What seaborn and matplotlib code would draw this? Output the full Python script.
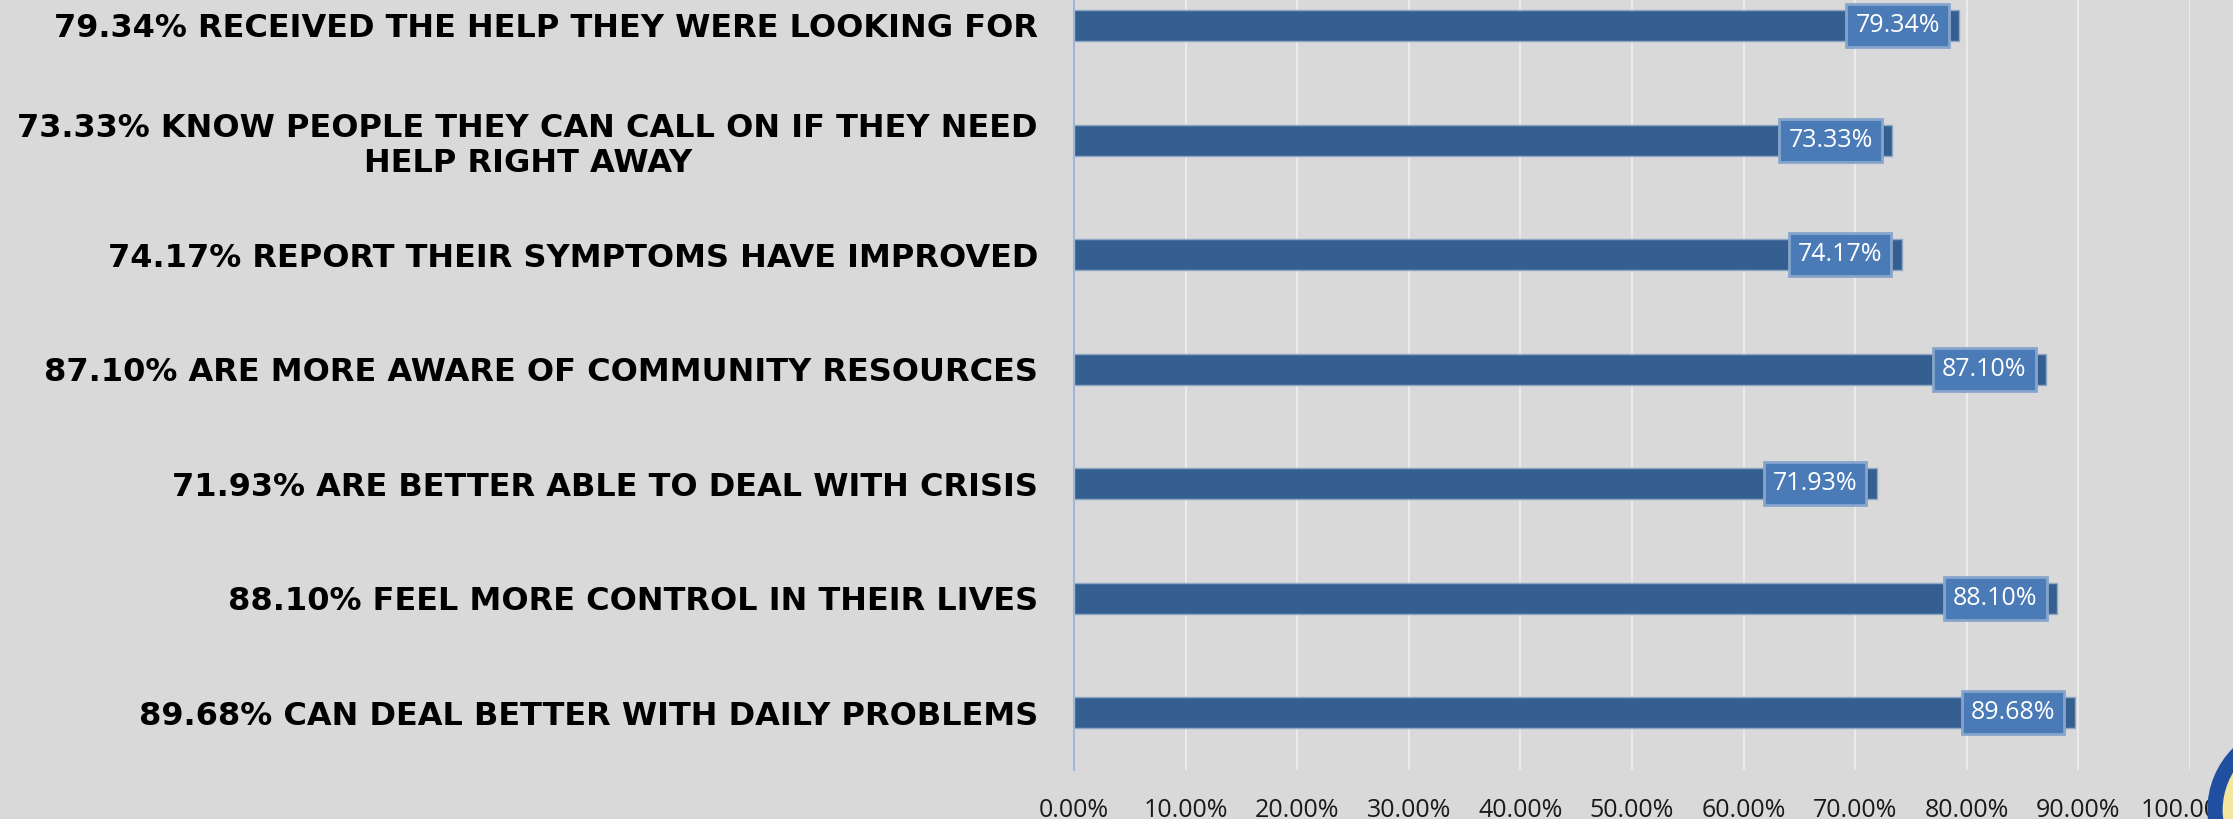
import pandas as pd
import matplotlib.pyplot as plt
import seaborn as sns
from matplotlib.patches import Circle
from matplotlib.ticker import PercentFormatter

labels = [
    "79.34% RECEIVED THE HELP THEY WERE LOOKING FOR",
    "73.33% KNOW PEOPLE THEY CAN CALL ON IF THEY NEED\nHELP RIGHT AWAY",
    "74.17% REPORT THEIR SYMPTOMS HAVE IMPROVED",
    "87.10% ARE MORE AWARE OF COMMUNITY RESOURCES",
    "71.93% ARE BETTER ABLE TO DEAL WITH CRISIS",
    "88.10% FEEL MORE CONTROL IN THEIR LIVES",
    "89.68% CAN DEAL BETTER WITH DAILY PROBLEMS",
]
values = [0.7934, 0.7333, 0.7417, 0.8710, 0.7193, 0.8810, 0.8968]
value_text = ["79.34%", "73.33%", "74.17%", "87.10%", "71.93%", "88.10%", "89.68%"]

df = pd.DataFrame({"label": labels, "value": values})

sns.set_style("white")
plt.rcParams['font.family'] = ['Open Sans', 'DejaVu Sans']

bg = "#d9d9d9"
fig = plt.figure(figsize=(22.33, 8.19), dpi=100, facecolor=bg)
ax = fig.add_axes([0.481, 0.0598, 0.4997, 0.979])
ax.set_facecolor(bg)

sns.barplot(data=df, x="value", y="label", orient="h", color="#365f91",
            width=0.27, edgecolor="#8ea8c6", linewidth=1, saturation=1, ax=ax)

# data labels in light boxes just inside the bar end
for bar, txt in zip(ax.patches, value_text):
    ax.annotate(txt, xy=(bar.get_width(), bar.get_y() + bar.get_height() / 2),
                xytext=(-14, 0), textcoords="offset points", ha="right", va="center",
                color="white", fontsize=18,
                bbox=dict(boxstyle="square,pad=0.36", fc="#4b7bb7", ec="#86a5cc", lw=2))

ax.set_xlim(0, 1)
ax.xaxis.set_major_formatter(PercentFormatter(1.0, decimals=2))
ax.set_xticks([i / 10 for i in range(11)])
ax.set_xlabel("")
ax.set_ylabel("")
ax.grid(axis="x", color="#ebebeb", linewidth=1.5)
ax.set_axisbelow(True)
for s in ["top", "right", "bottom"]:
    ax.spines[s].set_visible(False)
ax.spines["left"].set_color("#9db8dc")
ax.spines["left"].set_linewidth(1.5)
ax.tick_params(axis="x", length=0, pad=20, labelsize=18, labelcolor="#1a1a1a")
ax.tick_params(axis="y", length=0, pad=26)
for tl in ax.get_yticklabels():
    tl.set_fontfamily("DejaVu Sans")
    tl.set_fontweight("bold")
    tl.set_fontsize(23)
    tl.set_multialignment("center")
    tl.set_color("black")

# partial logo in the bottom right corner
fig.add_artist(Circle((22.95, 0.09), 0.8, transform=fig.dpi_scale_trans,
                      fc="#f3e7a0", ec="#1f4f9e", lw=11, clip_on=False))

fig.savefig("out.png", dpi=100, facecolor=bg)
